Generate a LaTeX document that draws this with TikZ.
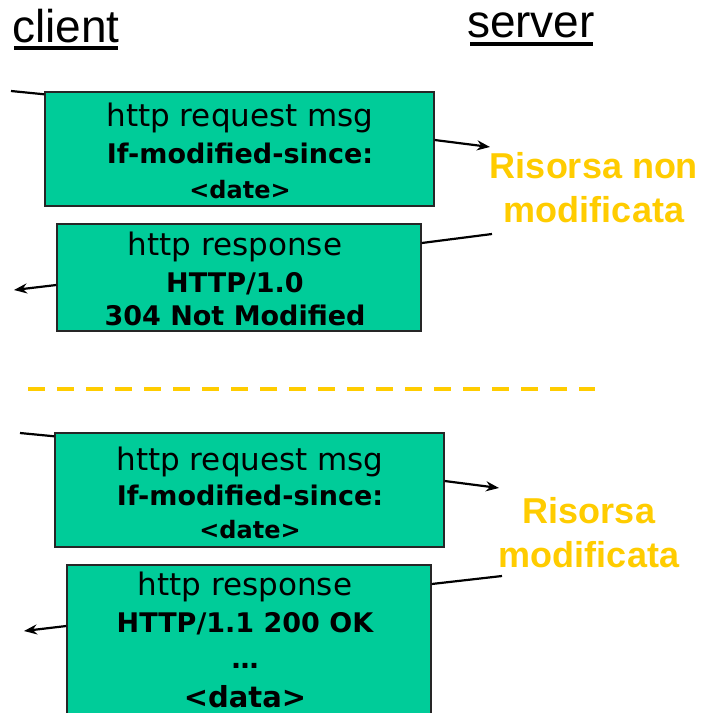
\documentclass[tikz,border=0pt]{standalone}
\usepackage{fontspec}
\setmainfont{DejaVu Sans}
\newfontfamily\arialfont{Liberation Sans}
\usetikzlibrary{arrows.meta}
\definecolor{boxgreen}{HTML}{00CC99}
\definecolor{gold}{HTML}{FFCC00}
\tikzset{
  msgbox/.style={draw=black!85, line width=1.4pt, fill=boxgreen, inner sep=0pt},
  wire/.style={line width=2.2pt, black},
  arr/.style={wire, -{Stealth[length=13pt,width=10pt]}},
  reg/.style={anchor=base, inner sep=0pt, font=\fontsize{31}{31}\selectfont},
  bld/.style={anchor=base, inner sep=0pt, font=\fontsize{27}{27}\selectfont\bfseries},
  dat/.style={anchor=base, inner sep=0pt, font=\fontsize{24}{24}\selectfont\bfseries},
  title/.style={anchor=base, inner sep=0pt, font=\arialfont\fontsize{46}{46}\selectfont},
  note/.style={anchor=base, inner sep=0pt, align=center, text=gold, font=\arialfont\bfseries\fontsize{36}{44}\selectfont},
}
\begin{document}
\begin{tikzpicture}[x=1pt,y=-1pt]
\useasboundingbox (0,0) rectangle (712,713);
% titles
\node[title] (client) at (66,42) {client};
\node[title] (server) at (531,37) {server};
\fill (14,46) rectangle (118,50);
\fill (470,41.5) rectangle (593,45.5);
% free ends
\coordinate (a1) at (11,91);
\coordinate (a2) at (490,147);
\coordinate (a3) at (492,234);
\coordinate (a4) at (14,290);
\coordinate (b1) at (20,433);
\coordinate (b2) at (499,488);
\coordinate (b3) at (502,576);
\coordinate (b4) at (24,631);
% boxes (as nodes)
\node[msgbox, minimum width=389pt, minimum height=114pt] (req1) at (239.5,149) {};
\node[msgbox, minimum width=364pt, minimum height=107pt] (resp1) at (239,277.5) {};
\node[msgbox, minimum width=389pt, minimum height=114pt] (req2) at (249.5,490) {};
\node[msgbox, minimum width=364pt, minimum height=151pt] (resp2) at (249,640.5) {};
% connectors
\draw[wire] (a1) -- ([yshift=-3pt]req1.north west);
\draw[arr] ([yshift=9pt]req1.east) -- (a2);
\draw[wire] (a3) -- ([yshift=34.5pt]resp1.east);
\draw[arr] ([yshift=-7.5pt]resp1.west) -- (a4);
\draw[wire] (b1) -- ([yshift=-4pt]req2.north west);
\draw[arr] ([yshift=9pt]req2.east) -- (b2);
\draw[wire] (b3) -- ([yshift=56.5pt]resp2.east);
\draw[arr] ([yshift=14.5pt]resp2.west) -- (b4);
% texts top
\node[reg] (t1) at (240,126) {http request msg};
\node[bld] (t2) at (240,163) {If-modified-since:};
\node[dat] (t3) at (240,198) {<date>};
\node[reg] (t4) at (235,255) {http response};
\node[bld] (t5) at (235,292) {HTTP/1.0};
\node[bld] (t6) at (235,325) {304 Not Modified};
% separator
\draw[gold, line width=4pt, dash pattern=on 17pt off 12pt] (28,389) -- (595,389);
% texts bottom
\node[reg] (u1) at (250,470) {http request msg};
\node[bld] (u2) at (250,505) {If-modified-since:};
\node[dat] (u3) at (250,538) {<date>};
\node[reg] (u4) at (245,595) {http response};
\node[bld] (u5) at (245,632) {HTTP/1.1 200 OK};
\node[bld] (u6) at (245,668) {…};
\node[anchor=base, inner sep=0pt, font=\fontsize{29}{29}\selectfont\bfseries] (u7) at (245,707) {<data>};
% notes
\node[note] (n1) at (594,222) {Risorsa non\\modificata};
\node[note] (n2) at (589,567) {Risorsa\\modificata};
\end{tikzpicture}
\end{document}
